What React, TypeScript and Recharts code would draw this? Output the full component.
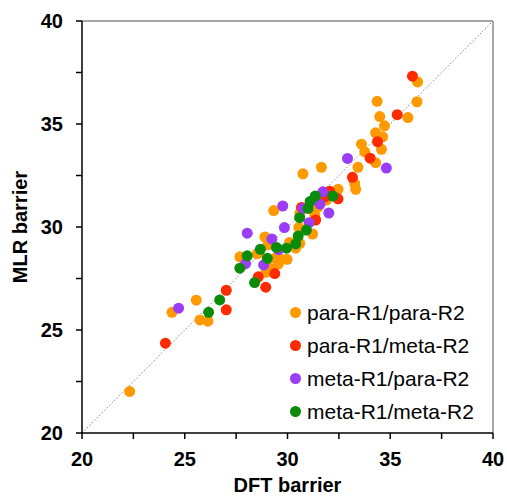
import { ScatterChart, Scatter, XAxis, YAxis, ReferenceLine } from "recharts"

// [DFT, MLR] pairs
const paraPara: [number, number][] = [
  [22.32, 22.02], [24.38, 25.86], [25.56, 26.45], [25.74, 25.49], [26.13, 25.43],
  [27.68, 28.55], [28.52, 28.7], [28.9, 29.52], [28.95, 27.8], [29.1, 28.02],
  [29.33, 30.8], [29.4, 28.48], [29.7, 28.43], [29.98, 28.43], [29.05, 29.13],
  [30.1, 29.25], [30.55, 29.98], [30.6, 29.21], [30.75, 32.58], [31.22, 29.66],
  [30.6, 30.66], [31.33, 30.58], [31.5, 30.98], [31.89, 31.31], [31.65, 32.9],
  [32.46, 31.83], [33.27, 32.1], [33.32, 31.83], [33.43, 32.9], [33.6, 34.02],
  [33.76, 33.65], [34.29, 34.57], [34.29, 33.12], [34.36, 36.1], [34.49, 35.36],
  [34.63, 34.38], [34.57, 33.77], [34.72, 34.91], [35.86, 35.31], [36.33, 37.04],
  [36.3, 36.08], [30.4, 28.97], [28.6, 28.75], [29.55, 28.2],
]

const paraMeta: [number, number][] = [
  [24.06, 24.36], [27.02, 26.93], [27.02, 25.98], [28.58, 27.58], [28.94, 27.08],
  [29.38, 27.74], [30.68, 30.95], [31.37, 30.34], [31.84, 31.47], [32.05, 31.74],
  [32.46, 31.37], [33.16, 32.41], [34.02, 33.34], [34.38, 34.14], [35.34, 35.45],
  [36.08, 37.32],
]

const metaPara: [number, number][] = [
  [24.7, 26.06], [28.04, 29.7], [27.96, 28.22], [28.84, 28.16], [29.24, 29.42],
  [29.56, 28.9], [29.77, 31.02], [29.85, 29.97], [30.75, 30.9], [31.05, 30.21],
  [31.58, 31.11], [31.72, 31.71], [32.01, 30.68], [32.92, 33.33], [34.81, 32.86],
]

const metaMeta: [number, number][] = [
  [26.16, 25.86], [26.7, 26.46], [27.68, 28.0], [28.04, 28.6], [28.4, 27.3],
  [28.68, 28.92], [29.02, 28.48], [29.46, 29.01], [29.95, 28.97], [30.4, 29.18],
  [30.52, 29.56], [30.59, 30.45], [30.92, 29.85], [31.0, 30.9], [31.1, 31.24],
  [31.35, 31.5], [32.21, 31.5],
]

const axisTicks = [20, 22.5, 25, 27.5, 30, 32.5, 35, 37.5, 40]

const series = [
  { name: "para-R1/para-R2", color: "#FF9900", data: paraPara },
  { name: "para-R1/meta-R2", color: "#FF2B00", data: paraMeta },
  { name: "meta-R1/para-R2", color: "#9B3DF7", data: metaPara },
  { name: "meta-R1/meta-R2", color: "#0A8C0A", data: metaMeta },
]

const toPoints = (d: [number, number][]) => d.map(([x, y]) => ({ x, y }))

const fmt = (v: number) => (v % 5 === 0 ? String(v) : "")

const tickStyle = { fill: "#000", fontSize: 20, fontWeight: 700 }

function LegendBox() {
  return (
    <div style={{ position: "absolute", left: 282, top: 288, fontSize: 21, lineHeight: "33px" }}>
      {series.map((s) => (
        <div key={s.name} style={{ display: "flex", alignItems: "center", height: 33 }}>
          <span
            style={{
              display: "inline-block",
              width: 11,
              height: 11,
              borderRadius: "50%",
              background: s.color,
              marginRight: 6,
            }}
          />
          <span style={{ color: "#000" }}>{s.name}</span>
        </div>
      ))}
    </div>
  )
}

export default function App() {
  return (
    <div
      style={{
        position: "absolute",
        left: 8,
        top: 8,
        width: 499,
        height: 488,
        overflow: "hidden",
        fontFamily: "'Liberation Sans', Arial, sans-serif",
      }}
    >
      <ScatterChart width={499} height={488} margin={{ top: 13, right: 14, bottom: 0, left: 0 }}>
        <XAxis
          type="number"
          dataKey="x"
          domain={[20, 40]}
          ticks={axisTicks}
          tickFormatter={fmt}
          interval={0}
          allowDataOverflow
          height={63}
          tickSize={6}
          tickMargin={13}
          tick={tickStyle}
          stroke="#000"
          strokeWidth={1.5}
          label={{ value: "DFT barrier", position: "insideBottom", offset: 4, fill: "#000", fontSize: 20, fontWeight: 700 }}
        />
        <YAxis
          type="number"
          dataKey="y"
          domain={[20, 40]}
          ticks={axisTicks}
          tickFormatter={fmt}
          interval={0}
          allowDataOverflow
          width={74}
          tickSize={6}
          tickMargin={13}
          tick={tickStyle}
          stroke="#000"
          strokeWidth={1.5}
          label={{
            value: "MLR barrier",
            angle: -90,
            position: "insideLeft",
            offset: 12,
            fill: "#000",
            fontSize: 20,
            fontWeight: 700,
            style: { textAnchor: "middle" },
          }}
        />
        <ReferenceLine y={40} stroke="#8a8a8a" strokeWidth={1.5} />
        <ReferenceLine x={40} stroke="#8a8a8a" strokeWidth={1.5} />
        <ReferenceLine
          segment={[{ x: 20, y: 20 }, { x: 40, y: 40 }]}
          stroke="#888"
          strokeDasharray="1.5 2"
          strokeWidth={1}
        />
        {series.map((s) => (
          <Scatter
            key={s.name}
            name={s.name}
            data={toPoints(s.data)}
            fill={s.color}
            isAnimationActive={false}
            shape={(p: any) => <circle cx={p.cx} cy={p.cy} r={5.5} fill={s.color} />}
          />
        ))}
      </ScatterChart>
      <LegendBox />
    </div>
  )
}
